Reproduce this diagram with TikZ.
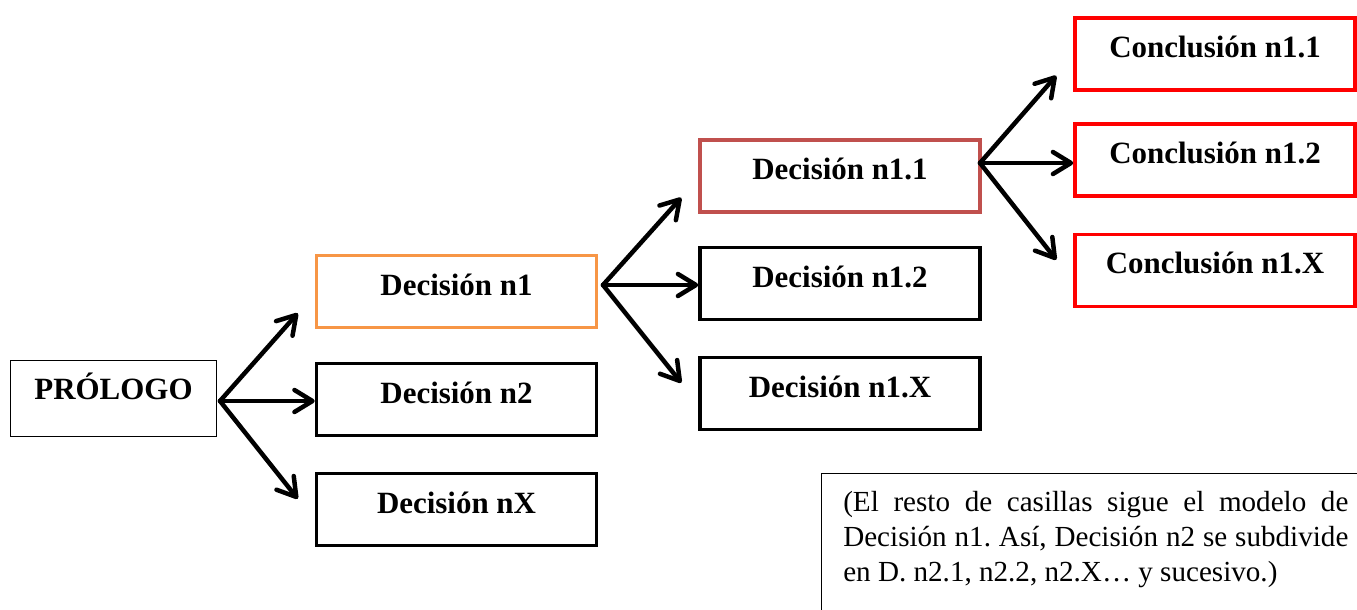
\documentclass[tikz,border=0pt]{standalone}
\usepackage{fontspec}
\setmainfont{Liberation Serif}
\usepackage{xcolor}
\usetikzlibrary{arrows.meta, calc}
\definecolor{naranjasuave}{HTML}{F79646}
\definecolor{rojoteja}{HTML}{C0504D}
\definecolor{rojovivo}{HTML}{FF0000}

\begin{document}
\begin{tikzpicture}[x=0.025cm, y=-0.025cm, font=\bfseries\fontsize{22}{26}\selectfont,
    casilla/.style={draw, line width=2.5pt, minimum width=7cm, minimum height=1.8cm,
      text height=0.6cm, text depth=0.425cm},
    flecha/.style={line width=3.2pt, line cap=round,
      -{Straight Barb[length=0.45cm, width=0.55cm, round]}}]
    \useasboundingbox (0,0) rectangle (1357,610);
    \clip (0,0) rectangle (1357,610);
    % prólogo
    \node[draw, line width=0.7pt, minimum width=5.15cm, minimum height=1.9cm,
      text height=0.6cm, text depth=0.575cm] (pro) at (113.5,398.5) {PRÓLOGO};
    % primer nivel de decisiones
    \node[casilla, draw=naranjasuave] (d1) at (456.5,291.5) {Decisión n1};
    \node[casilla] (d2) at (456.5,399.5) {Decisión n2};
    \node[casilla] (dX) at (456.5,509.5) {Decisión nX};
    % segundo nivel
    \node[casilla, draw=rojoteja] (d11) at (840,176) {Decisión n1.1};
    \node[casilla] (d12) at (840,283.5) {Decisión n1.2};
    \node[casilla] (d1X) at (840,393.5) {Decisión n1.X};
    % conclusiones
    \node[casilla, draw=rojovivo] (c11) at (1215,54) {Conclusión n1.1};
    \node[casilla, draw=rojovivo] (c12) at (1215,160) {Conclusión n1.2};
    \node[casilla, draw=rojovivo] (c1X) at (1215,270.5) {Conclusión n1.X};
    % puntos de salida de las flechas
    \coordinate (opro) at (220,401);
    \coordinate (od1) at (603,285);
    \coordinate (od11) at (980,163);
    \foreach \src/\arr/\med/\aba in {pro/d1/d2/dX, d1/d11/d12/d1X, d11/c11/c12/c1X}{
      \draw[flecha] (o\src) -- ([shift={(-17,-16)}]\arr.south west);
      \draw[flecha] (o\src) -- (o\src -| \med.west);
      \draw[flecha] (o\src) -- ([shift={(-17,27)}]\aba.north west);
    }
    % nota
    \node[font=\mdseries\fontsize{20.7}{24.9}\selectfont, text width=12.625cm,
      align=justify, inner xsep=0.55cm, inner ysep=0.45cm, anchor=north west] (nota) at (821,473)
      {\noindent\frenchspacing(El resto de casillas sigue el modelo de\linebreak
       Decisión n1. Así, Decisión n2 se subdivide\linebreak
       en D. n2.1, n2.2, n2.X… y sucesivo.)};
    \draw[line width=0.6pt] (nota.north west) rectangle ([shift={(30,60)}]nota.south east);
  \end{tikzpicture}
\end{document}
